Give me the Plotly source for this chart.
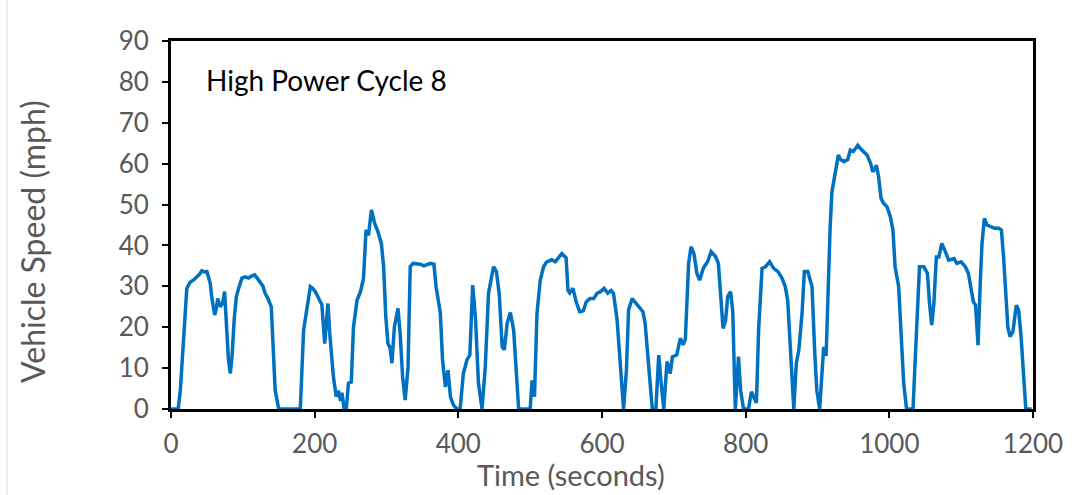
import plotly.graph_objects as go

time_s = [0, 10, 13, 17.6, 20, 22, 26.5, 31, 35.8, 40, 43, 47, 50, 54.7, 57, 60.8, 63, 65, 68.7, 72, 74.6,
          77, 80, 82.6, 85, 88, 91, 95, 98.8, 103, 108, 112, 116.4, 120, 124.3, 128, 131, 135, 139.6, 142,
          145, 150, 180, 184.6, 189, 194, 197, 201, 206.5, 210, 214, 218.5, 221, 226, 230, 233, 236, 238,
          241, 244, 247, 251, 254, 259, 264, 268, 271.5, 275, 279, 283.5, 288, 292.8, 296, 299, 302, 305,
          307.6, 311, 316, 319, 322.4, 326, 330, 333, 337, 342, 347, 352, 356, 361, 366, 369, 375, 378,
          382, 385.6, 389, 393, 398, 402.5, 407, 412, 416, 420, 424, 428, 433, 437.5, 442, 449, 453, 457,
          461, 464, 468, 472.4, 477, 481.7, 484, 500, 502.6, 506, 509.5, 514, 518.7, 523, 530, 535, 539.7,
          544, 550, 552.7, 555, 559.6, 564, 569, 574, 578, 583, 588.5, 593, 598, 603, 608, 612.6, 616, 621,
          625.5, 630, 634, 637, 642, 646, 652, 657, 660, 665, 670, 675, 679, 682, 686, 690.5, 695, 698, 704,
          709, 713, 716, 720.6, 724, 728, 732, 736, 741, 747, 752, 758, 762, 765.5, 768.5, 772, 775, 779,
          782, 785.6, 790, 793, 797, 804, 808, 811, 815, 818, 822.8, 827.5, 833.4, 839, 845, 850.6, 855,
          858.5, 861, 864.5, 867, 870.5, 874, 878.5, 881.7, 886.5, 892.4, 896, 899, 903, 906, 908.6, 912,
          914, 917.5, 920, 925, 929, 932, 937, 942, 945.7, 950, 956, 962, 969, 974, 977, 982, 985, 988.5,
          992, 996.7, 1001.4, 1005, 1008, 1013, 1016, 1020, 1024, 1033, 1036, 1039.5, 1042, 1048, 1053,
          1056, 1059, 1062, 1065.5, 1069, 1073, 1078, 1082.6, 1090, 1094, 1100, 1105.8, 1110, 1113.7, 1117,
          1120, 1123.5, 1126.7, 1129, 1132.3, 1136, 1141, 1146.5, 1152.5, 1156, 1159, 1162, 1165, 1168,
          1172, 1176.8, 1180, 1183.4, 1187, 1190, 1198]

speed_mph = [0, 0, 4.6, 16, 22, 29.5, 31, 31.5, 32.3, 33, 33.8, 33.5, 33.6, 30.7, 27, 23, 24.5, 27, 25, 26, 28.7,
             20, 12, 8.7, 13, 22, 27.5, 30, 32, 32.3, 32, 32.5, 32.8, 32, 30.8, 30, 28.3, 27, 25, 15,
             4.6, 0, 0, 19.3, 24.4, 29.9, 29.5, 28.7, 26.7, 25.5, 16, 25.8, 18.5, 8, 3, 4.5, 2, 4,
             0, 0, 6.3, 6.6, 20, 26.6, 28.8, 32, 43.8, 42.5, 48.7, 45.4, 43.4, 40.5, 34.8, 22.6, 16, 15,
             11.2, 20.1, 24.6, 18.5, 7.9, 2.2, 10.3, 34.8, 35.6, 35.6, 35.4, 35, 35.2, 35.6, 35.4, 29.9, 23.4, 12,
             5.4, 9.5, 3, 1, 0, 0, 8.7, 12, 13.2, 30.3, 21.8, 6.3, 0, 10.3, 28.3, 34.8, 33.6, 28,
             15.2, 14.5, 21, 23.6, 19.3, 4.6, 0, 0, 7, 3, 23.4, 31.5, 34.8, 36, 36.5, 36, 37.2,
             38, 37, 29, 28.4, 29.5, 26.2, 23.8, 24, 26.2, 27, 27, 28.3, 28.7, 29.5, 28.3, 29, 28.3, 21.8,
             9.5, 0, 9.5, 24.2, 27, 26.2, 25, 23.8, 21, 9.5, 0, 0, 13.2, 7, 0, 11.6, 8.7, 12.8, 13.2,
             17.3, 15.7, 17, 35.6, 39.7, 38, 33.2, 31.5, 34.4, 36, 38.5, 37.3, 35.6, 27.5, 19.7, 21.6, 27.5, 28.7,
             24, 0, 12.8, 4.6, 0, 0, 4.2, 3, 1.5, 19.3, 34.4, 34.8, 36, 34.4, 33.6, 32, 30,
             26.6, 19.3, 6.3, 0, 11.2, 14.4, 23.4, 33.6, 33.6, 29.9, 14.4, 4.6, 0, 7.9, 15.2, 13,
             25, 44, 53, 58.4, 62.1, 61, 60.5, 61, 63.3, 63, 64.5, 63.3, 62.1, 60, 58, 59.6, 56.8, 51.5,
             50.3, 49.5, 47, 43.8, 34.8, 29.9, 21, 6.3, 0, 0, 12, 27.5, 34.8, 34.8, 33.2,
             25.8, 20.5, 25.8, 37.2, 37.2, 40.5, 38.5, 36.4, 36.8, 35.6, 36, 34.8, 33.2, 29.9, 26.2,
             25.4, 15.6, 31.5, 40.5, 46.6, 45, 44.6, 44.2, 44.2, 43.8, 37.2, 29, 20, 17.7,
             18.9, 25.4, 24.2, 17.7, 7.9, 0, 0]

chart_title = "High Power Cycle 8"
x_label = "Time (seconds)"
y_label = "Vehicle Speed (mph)"
x_ticks = [0, 200, 400, 600, 800, 1000, 1200]
y_ticks = [0, 10, 20, 30, 40, 50, 60, 70, 80, 90]

FONT = "Lato, 'Open Sans', sans-serif"
GREY = "#595959"

fig = go.Figure()
fig.add_trace(go.Scatter(x=time_s, y=speed_mph, mode="lines",
                         line=dict(color="#0070C0", width=3.5), showlegend=False))

fig.add_annotation(text=chart_title, xref="paper", yref="paper", x=0.038, y=0.893,
                   xanchor="left", yanchor="middle", showarrow=False,
                   font=dict(family=FONT, size=28, color="#000000"))

# axis titles placed as in the reference (slightly off-centre)
fig.add_annotation(text=x_label, xref="paper", yref="paper", x=0.464, y=-0.179,
                   xanchor="center", yanchor="middle", showarrow=False,
                   font=dict(family=FONT, size=29, color=GREY))
fig.add_annotation(text=y_label, xref="paper", yref="paper", x=-0.160, y=0.454,
                   xanchor="center", yanchor="middle", showarrow=False, textangle=-90,
                   font=dict(family=FONT, size=32, color=GREY))

# thin grey frame line at the far left of the image
fig.add_shape(type="line", xref="paper", yref="paper", x0=-0.1903, x1=-0.1903,
              y0=-0.24, y1=1.12, line=dict(color="#D9D9D9", width=1))

fig.update_layout(
    width=1085, height=495,
    margin=dict(l=171, r=52, t=41, b=86),
    paper_bgcolor="white", plot_bgcolor="white",
    font=dict(family=FONT, color=GREY),
)
fig.update_xaxes(range=[0, 1200], tickvals=x_ticks, showgrid=False, zeroline=False,
                 showline=True, linecolor="black", linewidth=3, mirror=True,
                 ticks="outside", ticklen=6, tickwidth=2, tickcolor="black",
                 ticklabelstandoff=4,
                 tickfont=dict(family=FONT, size=26, color=GREY))
fig.update_yaxes(range=[0, 90], tickvals=y_ticks, showgrid=False, zeroline=False,
                 showline=True, linecolor="black", linewidth=3, mirror=True,
                 ticks="outside", ticklen=6, tickwidth=2, tickcolor="black",
                 ticklabelstandoff=8,
                 tickfont=dict(family=FONT, size=26, color=GREY))

fig.write_html("out.html")
